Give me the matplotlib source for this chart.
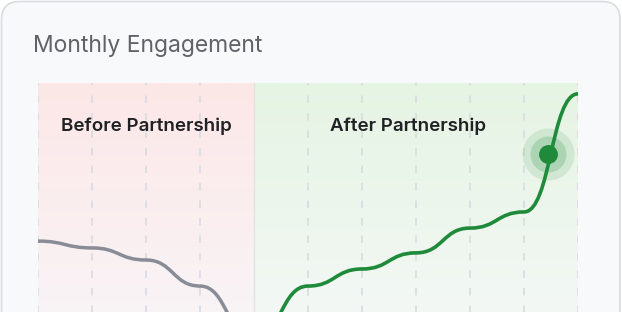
import numpy as np
import matplotlib
matplotlib.use('Agg')
import matplotlib.pyplot as plt
from matplotlib.patches import FancyBboxPatch, PathPatch
from matplotlib.path import Path
import matplotlib.colors as mcolors

# data (index of month, engagement score)
months = np.arange(11)
engagement = [49.0, 46.8, 42.9, 34.5, 17.7, 34.5, 40.0, 45.2, 53.2, 58.4, 96.5]
split_idx = 4                      # partnership starts here
zones = ['Before Partnership', 'After Partnership']
zone_bounds = [(0, 4), (4, 10)]
highlight_x = 9.45
highlight_y = 77.2

W, H = 622, 312
fig = plt.figure(figsize=(W / 100, H / 100), dpi=100)
fig.patch.set_facecolor('white')

# card + title in pixel coords
bg = fig.add_axes([0, 0, 1, 1])
bg.set_xlim(0, W)
bg.set_ylim(H, 0)
bg.axis('off')
card = FancyBboxPatch((1.5, 1.5), 618.5, 360, boxstyle='round,pad=0,rounding_size=18',
                      fc='#f8f9fb', ec='#dadce0', lw=1.2)
bg.add_patch(card)
bg.text(33, 52, 'Monthly Engagement', fontsize=16.5, color='#5f6368',
        family=['Inter', 'DejaVu Sans'], va='baseline', ha='left')

# chart area (bottom runs past the card edge)
ax = fig.add_axes([38 / W, (H - 393) / H, 540 / W, 310 / H])
ax.set_xlim(0, 10)
ax.set_ylim(0, 100)
ax.axis('off')
ax.patch.set_alpha(0)


def grad(top, bottom, n=256):
    c0 = np.array(mcolors.to_rgb(top))
    c1 = np.array(mcolors.to_rgb(bottom))
    f = np.linspace(0, 1, n)[:, None]
    return (c0 * (1 - f) + c1 * f)[:, None, :]


zone_cols = [('#fde7e7', '#f7f8fb'), ('#e5f4e3', '#f8f9fb')]
for (x0, x1), (ct, cb) in zip(zone_bounds, zone_cols):
    ax.imshow(grad(ct, cb), extent=[x0, x1, 0, 100], aspect='auto', zorder=0)

for m in months:
    if m == split_idx:
        continue
    ax.axvline(m, color='#d9dbe1', lw=1.2, ls=(0, (4.5, 6)), zorder=1)
ax.axvline(split_idx, color='#e2e3e7', lw=1.0, zorder=1)


def bump_path(xs, ys):
    verts = [(xs[0], ys[0])]
    codes = [Path.MOVETO]
    for i in range(1, len(xs)):
        xm = (xs[i - 1] + xs[i]) / 2
        verts += [(xm, ys[i - 1]), (xm, ys[i]), (xs[i], ys[i])]
        codes += [Path.CURVE4] * 3
    return Path(verts, codes)


before = bump_path(months[:split_idx + 1], engagement[:split_idx + 1])
after = bump_path(months[split_idx:], engagement[split_idx:])
ax.add_patch(PathPatch(before, fc='none', ec='#878c97', lw=2.5, capstyle='round', zorder=3))
ax.add_patch(PathPatch(after, fc='none', ec='#1f8a3a', lw=2.6, capstyle='round', zorder=3))

ax.scatter([highlight_x], [highlight_y], s=1400, color='#1f8a3a', alpha=0.12, lw=0, zorder=4)
ax.scatter([highlight_x], [highlight_y], s=670, color='#1f8a3a', alpha=0.2, lw=0, zorder=4)
ax.scatter([highlight_x], [highlight_y], s=185, color='#1f8a3a', lw=0, zorder=5)

label_x = [2.0, 6.85]
for name, lx in zip(zones, label_x):
    ax.text(lx, 86.1, name, fontsize=13.5, color='#202124', fontweight='semibold',
            family=['Inter', 'DejaVu Sans'], ha='center', va='center', zorder=6)

fig.savefig('out.png', dpi=100)
